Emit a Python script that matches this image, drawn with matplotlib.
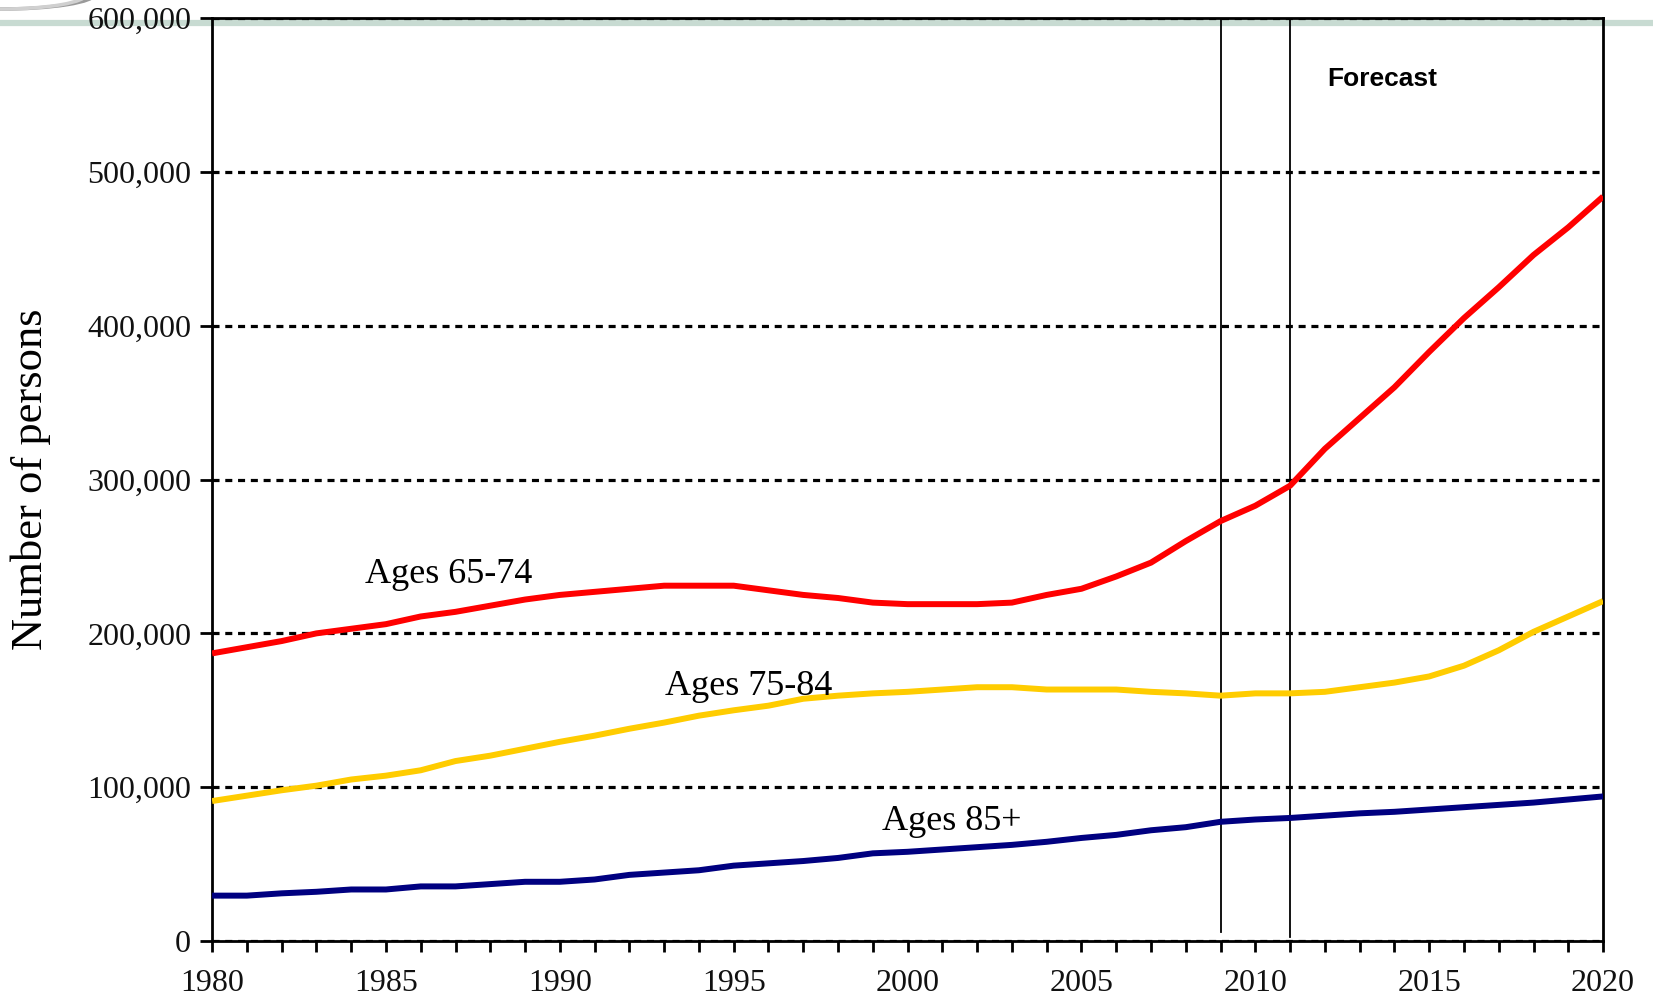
"""Number of persons by age group, 1980-2020 with forecast
"""
import matplotlib
matplotlib.use("Agg")
import matplotlib.pyplot as plt
from matplotlib.lines import Line2D
from matplotlib.patches import Ellipse
from matplotlib.ticker import FuncFormatter, MultipleLocator

years = list(range(1980, 2021))

ages_65_74 = [187, 191, 195, 200, 203, 206, 211, 214, 218, 222,
              225, 227, 229, 231, 231, 231, 228, 225, 223, 220,
              219, 219, 219, 220, 225, 229, 237, 246, 260, 273,
              283, 296, 320, 340, 360, 383, 405, 425, 446, 464, 484]
ages_75_84 = [91, 94.5, 98, 101, 105, 107.5, 111, 117, 120.5, 125,
              129.5, 133.5, 138, 142, 146.5, 150, 153, 157.5, 159.5, 161,
              162, 163.5, 165, 165, 163.5, 163.5, 163.5, 162, 161, 159.5,
              161, 161, 162, 165, 168, 172, 179, 189, 201, 211, 221]
ages_85_plus = [29.5, 29.5, 31, 32, 33.5, 33.5, 35.5, 35.5, 37, 38.5,
                38.5, 40, 43, 44.5, 46, 49, 50.5, 52, 54, 57,
                58, 59.5, 61, 62.5, 64.5, 67, 69, 72, 74, 77.5,
                79, 80, 81.5, 83, 84, 85.5, 87, 88.5, 90, 92, 94]

series_names = ["Ages 65-74", "Ages 75-84", "Ages 85+"]
series_colors = ["#ff0000", "#ffcc00", "#000080"]
forecast_years = [2009, 2011]

serif = ["Liberation Serif", "DejaVu Serif"]

fig = plt.figure(figsize=(16.53, 10.06), dpi=100)
ax = fig.add_axes([0.1283, 0.0646, 0.8415, 0.9174])
ax.set_facecolor("none")

# decorative band and logo remnant from the slide
fig.lines.append(Line2D([0, 1], [0.977, 0.977], transform=fig.transFigure,
                        color="#c8dbd2", lw=4.5, zorder=-5))
for w, c in [(0.115, "#9a9a9a"), (0.105, "#d0d0d0")]:
    fig.patches.append(Ellipse((0.0, 1.006), w, 0.03, transform=fig.transFigure,
                               facecolor="none", edgecolor=c, lw=2.5, zorder=-4))

values = [ages_65_74, ages_75_84, ages_85_plus]
for vals, col in zip(values, series_colors):
    ax.plot(years, [v * 1000 for v in vals], color=col, lw=4.3,
            solid_capstyle="butt", solid_joinstyle="round", zorder=3)

for yr, bottom in zip(forecast_years, [6000, 2600]):
    ax.plot([yr, yr], [bottom, 600000], color="black", lw=1.3, zorder=2)

ax.set_xlim(1980, 2020)
ax.set_ylim(0, 600000)
ax.xaxis.set_major_locator(MultipleLocator(5))
ax.xaxis.set_minor_locator(MultipleLocator(1))
ax.yaxis.set_major_locator(MultipleLocator(100000))
ax.yaxis.set_major_formatter(FuncFormatter(lambda v, p: f"{int(v):,}"))

ax.grid(axis="y", color="black", lw=2.3, linestyle=(0, (2.2, 1.8)))
ax.set_axisbelow(True)

for s in ax.spines.values():
    s.set_linewidth(2)
ax.tick_params(axis="both", which="both", direction="out", width=2, color="black")
ax.tick_params(axis="x", which="major", length=8, pad=12)
ax.tick_params(axis="x", which="minor", length=8)
ax.tick_params(axis="y", length=9, pad=6)

for lab in ax.get_xticklabels() + ax.get_yticklabels():
    lab.set_family(serif)
    lab.set_fontsize(23)
    lab.set_color("#111111")

ax.set_ylabel("Number of persons", family=serif, fontsize=32, labelpad=26)

ax.text(1986.8, 232700, series_names[0], family=serif, fontsize=26,
        ha="center", va="baseline")
ax.text(1995.43, 160000, series_names[1], family=serif, fontsize=26,
        ha="center", va="baseline")
ax.text(2001.28, 72200, series_names[2], family=serif, fontsize=26,
        ha="center", va="baseline")
ax.text(2013.65, 555800, "Forecast", family=["Liberation Sans", "DejaVu Sans"],
        fontsize=19, fontweight="bold", ha="center", va="baseline")

fig.savefig("out.png", dpi=100)
